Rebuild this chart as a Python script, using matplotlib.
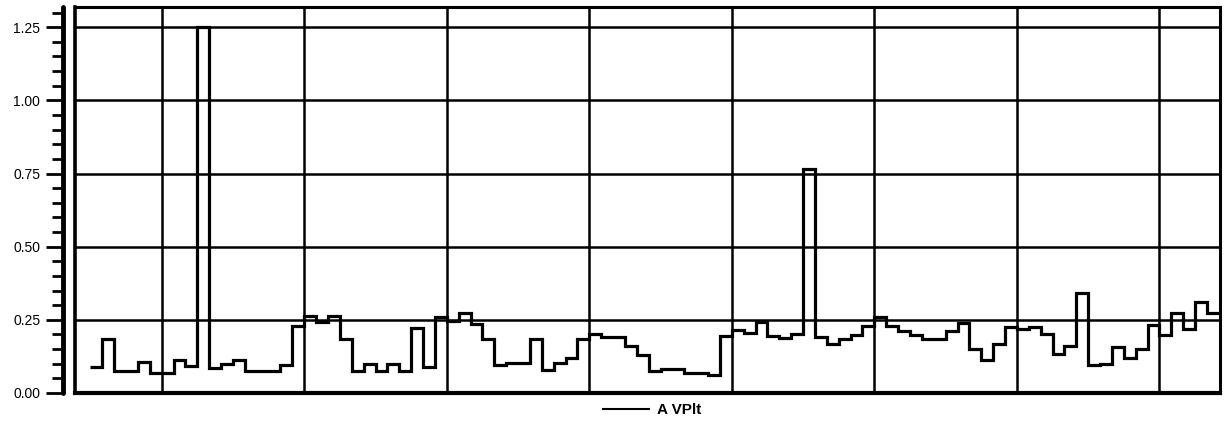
import numpy as np
import matplotlib
matplotlib.use("Agg")
import matplotlib.pyplot as plt
from matplotlib.lines import Line2D
from matplotlib.ticker import MultipleLocator

plt.rcParams['font.family'] = ['Liberation Sans', 'DejaVu Sans']

# monthly index (month 0 = first vertical gridline)
months = np.arange(-6, 89)
vplt = [
    0.088, 0.183, 0.075, 0.075, 0.107, 0.069,
    0.069, 0.113, 0.092, 1.250, 0.084, 0.099, 0.113, 0.076, 0.076, 0.076, 0.096, 0.229,
    0.263, 0.244, 0.263, 0.183, 0.076, 0.099, 0.076, 0.099, 0.076, 0.221, 0.088, 0.261,
    0.247, 0.272, 0.236, 0.183, 0.096, 0.102, 0.102, 0.183, 0.079, 0.101, 0.118, 0.183,
    0.201, 0.190, 0.190, 0.160, 0.130, 0.076, 0.083, 0.083, 0.069, 0.069, 0.061, 0.195,
    0.215, 0.204, 0.244, 0.195, 0.187, 0.201, 0.765, 0.190, 0.167, 0.183, 0.198, 0.229,
    0.260, 0.228, 0.213, 0.198, 0.183, 0.185, 0.213, 0.238, 0.149, 0.113, 0.167, 0.224,
    0.219, 0.226, 0.201, 0.133, 0.160, 0.343, 0.096, 0.100, 0.156, 0.118, 0.149, 0.232,
    0.198, 0.274, 0.217, 0.312, 0.274,
]
year_lines = [0, 12, 24, 36, 48, 60, 72, 84]
y_ticks = [0.0, 0.25, 0.5, 0.75, 1.0, 1.25]
y_labels = ["0.00", "0.25", "0.50", "0.75", "1.00", "1.25"]
series_label = "A VPlt"

W, H = 1226, 426
fig = plt.figure(figsize=(W / 100, H / 100), dpi=100)
ax = fig.add_axes([75 / W, 1 - 393 / H, (1220 - 75) / W, (393 - 7) / H])

edges = np.append(months, months[-1] + 1)
ax.stairs(vplt, edges, baseline=None, color='black', lw=2.3, zorder=3)

ax.set_xlim(-7.3, 89.1)
ax.set_ylim(0, 1.319)

ax.set_xticks(year_lines)
ax.set_xticklabels([])
ax.tick_params(axis='x', length=0)
ax.set_yticks(y_ticks)
ax.set_yticklabels(y_labels, fontsize=13, fontweight='bold')
ax.yaxis.set_minor_locator(MultipleLocator(0.05))
ax.tick_params(axis='y', which='major', length=12, width=2, pad=4, direction='out')
ax.tick_params(axis='y', which='minor', length=8, width=2, direction='out')

ax.grid(True, color='black', lw=1.8, zorder=1)

for s in ['top', 'right']:
    ax.spines[s].set_linewidth(2.2)
ax.spines['bottom'].set_linewidth(3.0)
ax.spines['left'].set_position(('outward', 9))
ax.spines['left'].set_linewidth(3.5)
ax.spines['left'].set_capstyle('round')
ax.add_line(Line2D([0, 0], [0, 1], transform=ax.transAxes, color='black',
                   lw=2.6, clip_on=False, zorder=4))

handle = Line2D([], [], color='black', lw=1.5)
fig.legend([handle], [series_label], loc='center',
           bbox_to_anchor=(652 / W, 1 - 410 / H), frameon=False,
           handlelength=3.0, handletextpad=0.5,
           prop={'size': 11, 'weight': 'bold'})

fig.savefig("out.png", dpi=100)
